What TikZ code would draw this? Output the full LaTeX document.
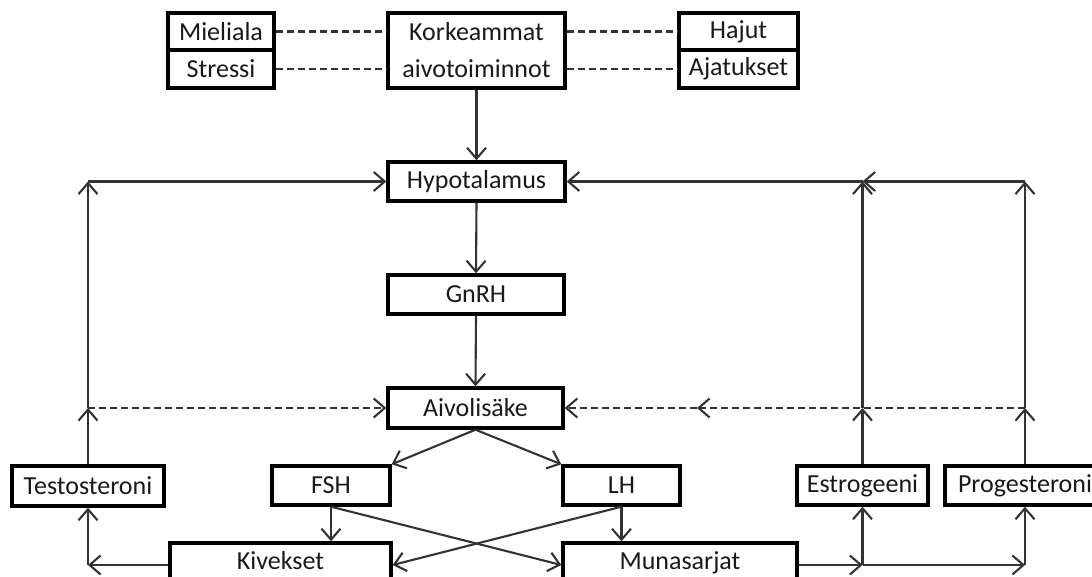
\documentclass[tikz,border=0pt]{standalone}
\usepackage{fontspec}
\setmainfont{Carlito}
\usetikzlibrary{arrows.meta}
\begin{document}
\begin{tikzpicture}[x=1pt,y=-1pt,
  box/.style={draw=black, line width=3.4pt, inner sep=0pt, fill=white,
    font=\fontsize{26}{37}\selectfont, align=center, text=black!90},
  lowbox/.style={box, text height=18pt, text depth=10pt},
  conn/.style={draw=black!80, line width=2.1pt},
  arr/.style={conn, -{Straight Barb[length=11pt,width=19pt]}},
  dsh/.style={conn, dash pattern=on 7pt off 4pt},
  darr/.style={dsh, -{Straight Barb[length=11pt,width=19pt]}}]
\useasboundingbox (0,0) rectangle (1092,577);
\clip (0,0) rectangle (1092,577);
% top row
\node[box, minimum width=106pt, minimum height=37pt] (miel) at (221,31.5) {Mieliala};
\node[box, minimum width=106pt, minimum height=38pt] (stre) at (221,69) {Stressi};
\node[box, minimum width=177pt, minimum height=75pt] (kork) at (476.5,50.5) {Korkeammat\\aivotoiminnot};
\node[box, minimum width=119pt, minimum height=37pt] (haju) at (738.5,31.5) {Hajut};
\node[box, minimum width=119pt, minimum height=38pt] (ajat) at (738.5,69) {Ajatukset};
% central column
\node[box, minimum width=177pt, minimum height=39pt] (hypo) at (476.5,181.5) {Hypotalamus};
\node[box, minimum width=176pt, minimum height=39pt] (gnrh) at (476,294.5) {GnRH};
\node[box, minimum width=175pt, minimum height=40pt] (aivo) at (475.5,408) {Aivolisäke};
% hormone row
\node[box, minimum width=152pt, minimum height=40pt] (test) at (88,486) {Testosteroni};
\node[box, minimum width=118pt, minimum height=39pt] (fsh) at (331,485.5) {FSH};
\node[box, minimum width=117pt, minimum height=39pt] (lh) at (621.5,485.5) {LH};
\node[box, minimum width=131pt, minimum height=39pt] (estr) at (862.5,485.5) {Estrogeeni};
\node[box, minimum width=160pt, minimum height=39pt] (prog) at (1025,485.5) {Progesteroni};
% gonads
\node[lowbox, minimum width=221pt, minimum height=44pt] (kive) at (280.5,565) {Kivekset};
\node[lowbox, minimum width=234pt, minimum height=44pt] (muna) at (680,565) {Munasarjat};
% helper coordinates
\coordinate (tl) at (test.north |- hypo.west);
\coordinate (tm) at (test.north |- aivo.west);
\coordinate (tb) at (test.south |- kive.west);
\coordinate (el) at (estr.north |- hypo.east);
\coordinate (em) at (estr.north |- aivo.east);
\coordinate (eb) at (estr.south |- muna.east);
\coordinate (pl) at (prog.north |- hypo.east);
\coordinate (pm) at (prog.north |- aivo.east);
\coordinate (pb) at (prog.south |- muna.east);
\coordinate (dm) at (697,408);
% dashed links at top
\draw[dsh] (miel.east) -- (miel.east -| kork.west);
\draw[dsh] (stre.east) -- (stre.east -| kork.west);
\draw[dsh] (haju.west -| kork.east) -- (haju.west);
\draw[dsh] (ajat.west -| kork.east) -- (ajat.west);
% main chain
\draw[arr] (kork.south) -- (hypo.north);
\draw[arr] (hypo.south) -- (gnrh.north);
\draw[arr] (gnrh.south) -- (aivo.north);
\draw[arr] (aivo.south) -- (fsh.north east);
\draw[arr] (aivo.south) -- (lh.north west);
\draw[arr] (fsh.south) -- (fsh.south |- kive.north);
\draw[arr] (lh.south) -- (lh.south |- muna.north);
\draw[arr] (fsh.south) -- (muna.west);
\draw[arr] (lh.south) -- (kive.east);
% testosterone feedback
\draw[arr] (kive.west) -- (tb);
\draw[arr] (tb) -- (test.south);
\draw[arr] (test.north) -- (tm);
\draw[arr] (tm) -- (tl);
\draw[arr] (tl) -- (hypo.west);
\draw[darr] (tm) -- (aivo.west);
% ovarian feedback
\draw[arr] (muna.east) -- (eb);
\draw[arr] (eb) -- (pb);
\draw[arr] (eb) -- (estr.south);
\draw[arr] (pb) -- (prog.south);
\draw[arr] (estr.north) -- (em);
\draw[arr] (em) -- (el);
\draw[arr] (prog.north) -- (pm);
\draw[arr] (pm) -- (pl);
\draw[arr] (pl) -- (el);
\draw[arr] (el) -- (hypo.east);
\draw[darr] (pm) -- (dm);
\draw[darr] (dm) -- (aivo.east);
\end{tikzpicture}
\end{document}
